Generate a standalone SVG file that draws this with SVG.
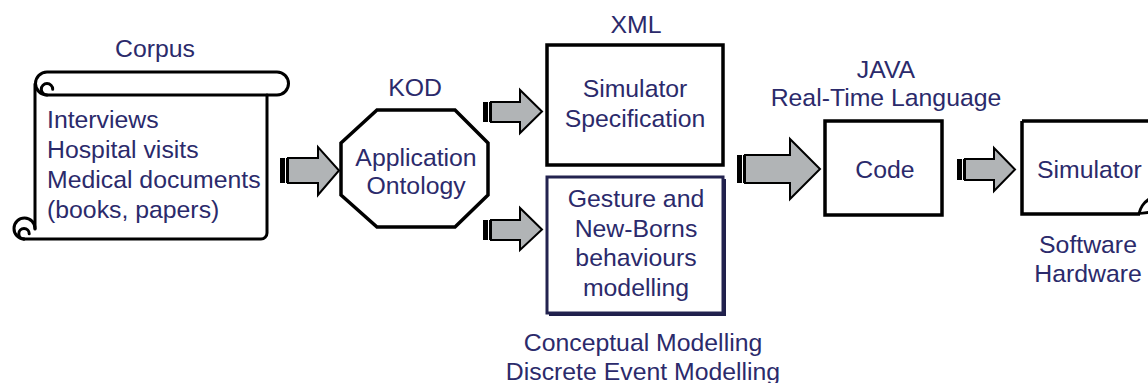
<svg xmlns="http://www.w3.org/2000/svg" width="1148" height="383" viewBox="0 0 1148 383">
<defs>
<style>
.t{font-family:"Liberation Sans",Arial,sans-serif;font-size:24.8px;fill:#2b2a6b;text-anchor:middle}
.tl{text-anchor:start}
.ol{fill:none;stroke:#000;stroke-width:3;stroke-linejoin:round;stroke-linecap:round}
.box{fill:#fff;stroke:#000;stroke-width:3.5}
.arr{fill:#b1b4b6;stroke:#000;stroke-width:2;stroke-linejoin:miter}
.st{fill:#000}
</style>
</defs>
<rect width="1148" height="383" fill="#fff"/>

<g id="corpus">
<path class="ol" fill="#fff" d="M35 84 V229 M267 95 V233 A6 6 0 0 1 261 239 H24"/>
<path class="ol" d="M47 72 H277 A11.5 11.5 0 0 1 277 95 H47 A11.5 11.5 0 0 1 47 72 Z"/>
<path class="ol" d="M47 95 A5.7 5.7 0 1 1 52.7 89.3"/>
<path class="ol" d="M24 239 A10.5 10.5 0 1 1 35 228.5"/>
<path class="ol" d="M24 239 A5.2 5.2 0 0 1 24 228.6 A5.2 5.2 0 0 1 29.2 233.8"/>
<text class="t" x="155" y="57">Corpus</text>
<text class="t tl" x="47" y="128">Interviews</text>
<text class="t tl" x="47" y="158">Hospital visits</text>
<text class="t tl" x="47" y="188">Medical documents</text>
<text class="t tl" x="47" y="218">(books, papers)</text>
</g>

<g id="kod">
<polygon class="box" points="377,110 455,110 488,143 488,195 455,227 377,227 341,195 341,143"/>
<text class="t" x="415" y="96">KOD</text>
<text class="t" x="416" y="166">Application</text>
<text class="t" x="416" y="194">Ontology</text>
</g>

<g id="spec">
<rect class="box" x="547" y="45" width="176" height="120"/>
<text class="t" x="636" y="33">XML</text>
<text class="t" x="635" y="97">Simulator</text>
<text class="t" x="635" y="127">Specification</text>
</g>

<g id="gesture">
<rect x="549" y="179" width="177" height="137" fill="#1f1f4a"/>
<rect x="547" y="177" width="176" height="136" fill="#fff" stroke="#23234f" stroke-width="3"/>
<text class="t" x="636" y="207">Gesture and</text>
<text class="t" x="636" y="237">New-Borns</text>
<text class="t" x="636" y="266">behaviours</text>
<text class="t" x="636" y="296">modelling</text>
<text class="t" x="643" y="351">Conceptual Modelling</text>
<text class="t" x="643" y="380">Discrete Event Modelling</text>
</g>

<g id="code">
<rect class="box" x="825" y="121" width="117" height="94"/>
<text class="t" x="886" y="78">JAVA</text>
<text class="t" x="886" y="106">Real-Time Language</text>
<text class="t" x="885" y="178">Code</text>
</g>

<g id="simulator">
<path class="box" d="M1022 121 H1160 M1022 121 V214 H1140"/>
<path d="M1137 215 Q1140 203 1148 198 V214 Z" fill="#000"/>
<path d="M1141 212 Q1143 205 1148 202 V211 Z" fill="#fff"/>
<text class="t tl" x="1037" y="178">Simulator</text>
<text class="t" x="1088" y="253">Software</text>
<text class="t" x="1088" y="282">Hardware</text>
</g>

<g id="connectors">
<g>
<rect class="st" x="280" y="158" width="5" height="25"/>
<rect class="st" x="286" y="158" width="2" height="25"/>
<polygon class="arr" points="288,158 318,158 318,147 339,170.5 318,195 318,183 288,183"/>
</g>
<g>
<rect class="st" x="483" y="102" width="5" height="20"/>
<rect class="st" x="489" y="102" width="2" height="20"/>
<polygon class="arr" points="491,102 520,102 520,90 542,111.5 520,133 520,122 491,122"/>
</g>
<g>
<rect class="st" x="483" y="220" width="5" height="20"/>
<rect class="st" x="489" y="220" width="2" height="20"/>
<polygon class="arr" points="491,220 520,220 520,208 542,229.5 520,250 520,240 491,240"/>
</g>
<g>
<rect class="st" x="737" y="155" width="5" height="28"/>
<rect class="st" x="743" y="155" width="2" height="28"/>
<polygon class="arr" points="745,155 790,155 790,139 820,169 790,199 790,183 745,183"/>
</g>
<g>
<rect class="st" x="957" y="159" width="5" height="21"/>
<rect class="st" x="963" y="159" width="2" height="21"/>
<polygon class="arr" points="965,159 994,159 994,148 1015,169.5 994,191 994,180 965,180"/>
</g>
</g>
</svg>
